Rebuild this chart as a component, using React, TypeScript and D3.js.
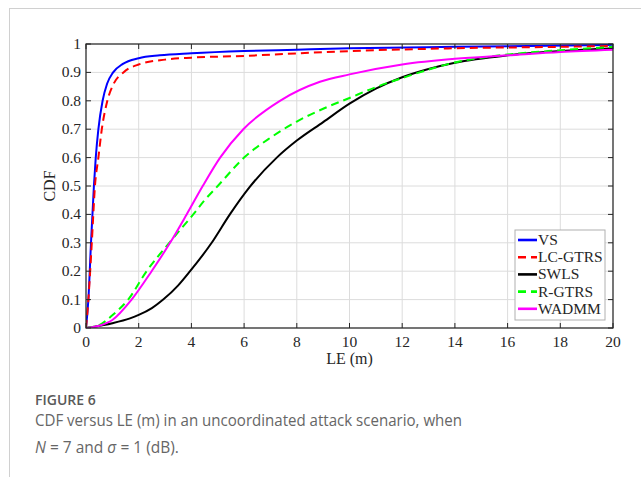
import * as d3 from "d3";

const W = 641;
const H = 477;

const xTicks = [0, 2, 4, 6, 8, 10, 12, 14, 16, 18, 20];
const yTicks = [0, 0.1, 0.2, 0.3, 0.4, 0.5, 0.6, 0.7, 0.8, 0.9, 1];

// VS
const vsLE = [0, 0.09, 0.19, 0.3, 0.37, 0.47, 0.63, 0.8, 1.03, 1.4, 2, 2.8, 4, 6, 8, 10, 14, 20];
const vsCDF = [0, 0.1, 0.3, 0.5, 0.6, 0.7, 0.8, 0.86, 0.9, 0.93, 0.95, 0.96, 0.967, 0.975, 0.98, 0.985, 0.99, 0.997];
// LC-GTRS
const lcLE = [0, 0.09, 0.22, 0.34, 0.47, 0.6, 0.81, 1.05, 1.42, 2, 3, 4, 6, 8, 10, 14, 18, 20];
const lcCDF = [0, 0.1, 0.3, 0.5, 0.6, 0.7, 0.8, 0.86, 0.9, 0.928, 0.945, 0.952, 0.958, 0.967, 0.975, 0.985, 0.99, 0.993];
// SWLS
const swLE = [0, 1, 1.67, 2, 2.5, 2.93, 3.5, 3.95, 4.77, 5.46, 6.2, 7.24, 8, 9, 10, 11, 12, 13, 14, 16, 18, 20];
const swCDF = [0, 0.017, 0.034, 0.046, 0.07, 0.1, 0.15, 0.2, 0.3, 0.4, 0.495, 0.6, 0.66, 0.725, 0.79, 0.843, 0.883, 0.912, 0.934, 0.96, 0.975, 0.985];
// R-GTRS
const rgLE = [0, 0.5, 1, 1.6, 2.3, 3.16, 4.07, 4.5, 5.0, 6, 7, 8, 9, 10, 11, 12, 13, 14, 16, 18, 20];
const rgCDF = [0, 0.01, 0.045, 0.1, 0.2, 0.3, 0.4, 0.45, 0.5, 0.6, 0.67, 0.727, 0.772, 0.81, 0.848, 0.88, 0.91, 0.935, 0.963, 0.978, 0.99];
// WADMM
const waLE = [0, 0.5, 1, 1.73, 2.49, 3.19, 3.82, 4.43, 5.09, 5.97, 7.36, 8.88, 10, 12, 14, 16, 18, 20];
const waCDF = [0, 0.008, 0.028, 0.1, 0.2, 0.3, 0.4, 0.5, 0.6, 0.7, 0.8, 0.867, 0.893, 0.928, 0.948, 0.96, 0.972, 0.98];

const series = [
  { name: "VS", le: vsLE, cdf: vsCDF, color: "#0000ff", dash: "" },
  { name: "LC-GTRS", le: lcLE, cdf: lcCDF, color: "#ff0000", dash: "8,5" },
  { name: "SWLS", le: swLE, cdf: swCDF, color: "#000000", dash: "" },
  { name: "R-GTRS", le: rgLE, cdf: rgCDF, color: "#00ff00", dash: "8,5" },
  { name: "WADMM", le: waLE, cdf: waCDF, color: "#ff00ff", dash: "" },
];

const plot = { left: 86, right: 613, top: 44, bottom: 328 };
const serif = "'Liberation Serif', 'Times New Roman', serif";
const sans = "'Open Sans', 'Noto Sans', sans-serif";

export default function App() {
  const x = d3.scaleLinear().domain([0, 20]).range([plot.left, plot.right]);
  const y = d3.scaleLinear().domain([0, 1]).range([plot.bottom, plot.top]);
  const line = d3
    .line<[number, number]>()
    .x((d) => x(d[0]))
    .y((d) => y(d[1]))
    .curve(d3.curveMonotoneX);
  const tick = 5;
  const leg = { x: 515, y: 230, w: 90, h: 90, step: 17.2 };

  return (
    <svg
      width={W}
      height={H}
      style={{ position: "absolute", left: 0, top: 0, background: "#fff" }}
    >
      {/* page frame */}
      <line x1={9.5} x2={9.5} y1={8} y2={H} stroke="#d0d0d0" />
      <line x1={9} x2={W} y1={8.5} y2={8.5} stroke="#d0d0d0" />

      <defs>
        <clipPath id="plotclip">
          <rect
            x={plot.left}
            y={plot.top - 2}
            width={plot.right - plot.left}
            height={plot.bottom - plot.top + 2}
          />
        </clipPath>
      </defs>

      {/* grid */}
      {xTicks.map((t) => (
        <line key={"gx" + t} x1={x(t)} x2={x(t)} y1={plot.top} y2={plot.bottom} stroke="#dcdcdc" />
      ))}
      {yTicks.map((t) => (
        <line key={"gy" + t} x1={plot.left} x2={plot.right} y1={y(t)} y2={y(t)} stroke="#dcdcdc" />
      ))}

      {/* curves */}
      <g clipPath="url(#plotclip)">
        {series.map((s) => (
          <path
            key={s.name}
            d={line(s.le.map((v, i) => [v, s.cdf[i]] as [number, number])) || ""}
            fill="none"
            stroke={s.color}
            strokeWidth={2}
            strokeDasharray={s.dash}
          />
        ))}
      </g>

      {/* axes box + ticks */}
      <rect
        x={plot.left}
        y={plot.top}
        width={plot.right - plot.left}
        height={plot.bottom - plot.top}
        fill="none"
        stroke="#262626"
        strokeWidth={1.2}
      />
      {xTicks.map((t) => (
        <g key={"tx" + t} stroke="#262626">
          <line x1={x(t)} x2={x(t)} y1={plot.bottom} y2={plot.bottom - tick} />
          <line x1={x(t)} x2={x(t)} y1={plot.top} y2={plot.top + tick} />
        </g>
      ))}
      {yTicks.map((t) => (
        <g key={"ty" + t} stroke="#262626">
          <line x1={plot.left} x2={plot.left + tick} y1={y(t)} y2={y(t)} />
          <line x1={plot.right} x2={plot.right - tick} y1={y(t)} y2={y(t)} />
        </g>
      ))}

      {/* tick labels */}
      <g fontFamily={serif} fill="#262626">
        {xTicks.map((t) => (
          <text key={"lx" + t} x={x(t)} y={plot.bottom + 19} textAnchor="middle" fontSize={15.5}>
            {t}
          </text>
        ))}
        {yTicks.map((t) => (
          <text key={"ly" + t} x={plot.left - 5} y={y(t) + 5} textAnchor="end" fontSize={15.5}>
            {String(t)}
          </text>
        ))}
        <text x={(plot.left + plot.right) / 2} y={364} textAnchor="middle" fontSize={16}>
          LE (m)
        </text>
        <text
          transform={`translate(55,${(plot.top + plot.bottom) / 2}) rotate(-90)`}
          textAnchor="middle"
          fontSize={16}
        >
          CDF
        </text>
      </g>

      {/* legend */}
      <rect x={leg.x} y={leg.y} width={leg.w} height={leg.h} fill="#fff" stroke="#b0b0b0" />
      {series.map((s, i) => {
        const cy = leg.y + 10 + i * leg.step;
        return (
          <g key={"lg" + s.name}>
            <line
              x1={leg.x + 3}
              x2={leg.x + 22}
              y1={cy}
              y2={cy}
              stroke={s.color}
              strokeWidth={2.6}
              strokeDasharray={s.dash}
            />
            <text x={leg.x + 23} y={cy + 5} fontFamily={serif} fontSize={15.5} fill="#262626">
              {s.name}
            </text>
          </g>
        );
      })}

      {/* caption */}
      <text x={35} y={405} fontFamily={sans} fontSize={14} fontWeight={600} fill="#595959">
        FIGURE 6
      </text>
      <text
        x={35}
        y={426}
        fontFamily={sans}
        fontSize={16.5}
        fill="#666"
        textLength={427}
        lengthAdjust="spacingAndGlyphs"
      >
        CDF versus LE (m) in an uncoordinated attack scenario, when
      </text>
      <text x={35} y={453} fontFamily={sans} fontSize={15.5} fill="#666">
        <tspan fontStyle="italic">N</tspan> = 7 and <tspan fontStyle="italic">σ</tspan> = 1 (dB).
      </text>
    </svg>
  );
}
